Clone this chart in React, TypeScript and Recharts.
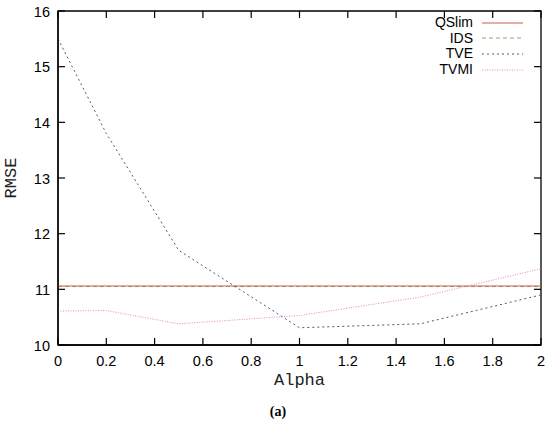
import React from "react";
import {
  LineChart,
  Line,
  XAxis,
  YAxis,
  ReferenceArea,
} from "recharts";

const alpha = [0, 0.2, 0.5, 1, 1.5, 2];
const qslim = [11.06, 11.06, 11.06, 11.06, 11.06, 11.06];
const ids = [11.05, 11.05, 11.05, 11.05, 11.05, 11.05];
const tve = [15.5, 13.8, 11.7, 10.31, 10.38, 10.9];
const tvmi = [10.61, 10.62, 10.38, 10.53, 10.86, 11.37];

const xTicks = [0, 0.2, 0.4, 0.6, 0.8, 1, 1.2, 1.4, 1.6, 1.8, 2];
const yTicks = [10, 11, 12, 13, 14, 15, 16];

const series = [
  { key: "qslim", name: "QSlim", color: "#c9604a", dash: undefined },
  { key: "ids", name: "IDS", color: "#8fa870", dash: "4 3" },
  { key: "tve", name: "TVE", color: "#4a5a78", dash: "2 3" },
  { key: "tvmi", name: "TVMI", color: "#e08cc4", dash: "1 1.5" },
];

// draw IDS under QSlim so the overlapping pair reads reddish-brown
const drawOrder = ["ids", "qslim", "tve", "tvmi"];

const data = alpha.map((a, i) => ({
  alpha: a,
  qslim: qslim[i],
  ids: ids[i],
  tve: tve[i],
  tvmi: tvmi[i],
}));

// plot frame (used for the inward, mirrored tick marks)
const TOP = 11;
const BOTTOM = 345;
const LEFT = 58;
const RIGHT = 541;
const TICK = 7;

const sansFont = "Liberation Sans";
const monoFont = "Liberation Mono";

function XTick({ x, payload }: any) {
  return (
    <g>
      <line x1={x} x2={x} y1={BOTTOM} y2={BOTTOM - TICK} stroke="#000" strokeWidth={1.2} />
      <line x1={x} x2={x} y1={TOP} y2={TOP + TICK} stroke="#000" strokeWidth={1.2} />
      <text x={x} y={BOTTOM + 21} textAnchor="middle" fontFamily={sansFont} fontSize={14.5} fill="#000">
        {String(payload.value)}
      </text>
    </g>
  );
}

function YTick({ y, payload }: any) {
  return (
    <g>
      <line x1={LEFT} x2={LEFT + TICK} y1={y} y2={y} stroke="#000" strokeWidth={1.2} />
      <line x1={RIGHT - TICK} x2={RIGHT} y1={y} y2={y} stroke="#000" strokeWidth={1.2} />
      <text x={50} y={y + 5.5} textAnchor="end" fontFamily={sansFont} fontSize={14.5} fill="#000">
        {String(payload.value)}
      </text>
    </g>
  );
}

function XTitle({ viewBox }: any) {
  const cx = viewBox.x + viewBox.width / 2;
  return (
    <text x={cx} y={BOTTOM + 40} textAnchor="middle" fontFamily={monoFont} fontSize={17} fill="#222">
      Alpha
    </text>
  );
}

function YTitle({ viewBox }: any) {
  const cy = viewBox.y + viewBox.height / 2;
  return (
    <text
      x={16}
      y={cy}
      transform={`rotate(-90 16 ${cy})`}
      textAnchor="middle"
      fontFamily={monoFont}
      fontSize={17}
      fill="#222"
    >
      RMSE
    </text>
  );
}

function KeyBox() {
  return (
    <div
      style={{
        position: "absolute",
        top: 15,
        left: 380,
        width: 150,
        fontFamily: sansFont,
        fontSize: 14,
        color: "#000",
      }}
    >
      {series.map((s) => (
        <div key={s.key} style={{ display: "flex", alignItems: "center", height: 15.6 }}>
          <span style={{ width: 93, textAlign: "right", lineHeight: "15.6px" }}>{s.name}</span>
          <svg width={41} height={6} style={{ marginLeft: 9 }}>
            <line x1={0} x2={41} y1={3} y2={3} stroke={s.color} strokeWidth={1} strokeDasharray={s.dash} />
          </svg>
        </div>
      ))}
    </div>
  );
}

export default function App() {
  return (
    <div style={{ position: "absolute", left: 0, top: 0, width: 550, height: 423, background: "#fff" }}>
      <LineChart width={550} height={423} data={data} margin={{ top: TOP, right: 9, bottom: 0, left: 0 }}>
        <XAxis
          dataKey="alpha"
          type="number"
          domain={[0, 2]}
          ticks={xTicks}
          height={78}
          tickSize={0}
          tickMargin={0}
          tickLine={false}
          axisLine={{ stroke: "#000", strokeWidth: 1.3 }}
          tick={<XTick />}
          interval={0}
          label={<XTitle />}
        />
        <YAxis
          type="number"
          domain={[10, 16]}
          ticks={yTicks}
          width={58}
          tickSize={0}
          tickMargin={0}
          tickLine={false}
          axisLine={{ stroke: "#000", strokeWidth: 1.3 }}
          tick={<YTick />}
          interval={0}
          label={<YTitle />}
        />
        <ReferenceArea
          x1={0}
          x2={2}
          y1={10}
          y2={16}
          fill="none"
          stroke="#000"
          strokeWidth={1.3}
          ifOverflow="visible"
        />
        {drawOrder.map((k) => {
          const s = series.find((d) => d.key === k)!;
          return (
            <Line
              key={s.key}
              dataKey={s.key}
              name={s.name}
              type="linear"
              stroke={s.color}
              strokeWidth={1}
              strokeDasharray={s.dash}
              dot={false}
              activeDot={false}
              isAnimationActive={false}
            />
          );
        })}
      </LineChart>
      <KeyBox />
      <div
        style={{
          position: "absolute",
          left: 0,
          width: 556,
          top: 404,
          textAlign: "center",
          fontFamily: "Liberation Serif",
          fontWeight: "bold",
          fontSize: 14,
        }}
      >
        (a)
      </div>
    </div>
  );
}
